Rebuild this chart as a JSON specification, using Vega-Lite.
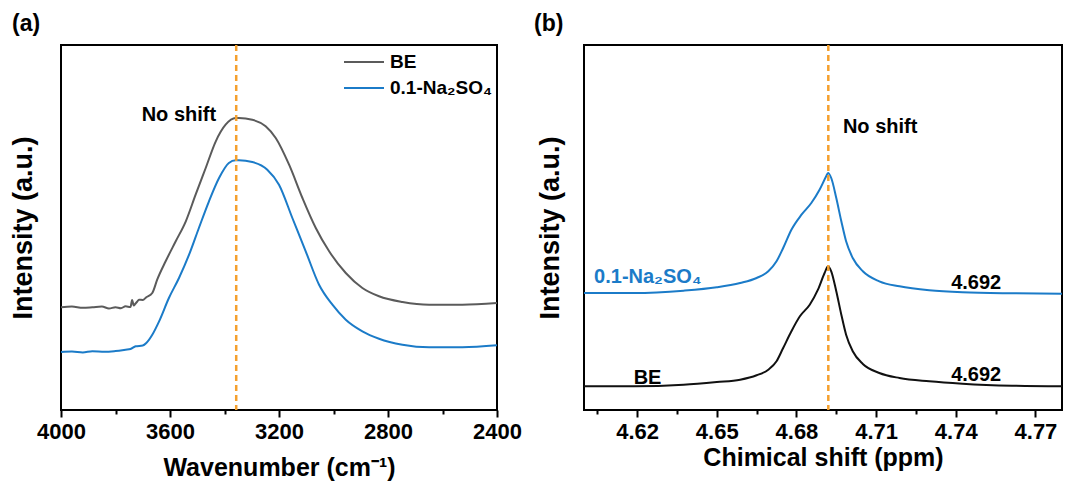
{
  "$schema": "https://vega.github.io/schema/vega-lite/v6.json",
  "background": "white",
  "padding": {"left": 8, "top": 11, "right": 0, "bottom": 0},
  "bounds": "flush",
  "spacing": 87,
  "config": {
    "font": "Liberation Sans",
    "view": {"stroke": "black", "strokeWidth": 2},
    "axis": {"domain": false, "grid": false, "labelFont": "Liberation Sans", "labelFontWeight": "bold", "labelFontSize": 22, "labelColor": "black", "titleFont": "Liberation Sans", "titleFontSize": 25, "titleFontWeight": "bold", "titleColor": "black", "tickColor": "black", "tickWidth": 2},
    "axisY": {"ticks": false, "labels": false, "titleFontSize": 27},
    "title": {"font": "Liberation Sans", "fontSize": 23, "fontWeight": "bold", "color": "black", "anchor": "start", "frame": "group", "offset": 8},
    "text": {"font": "Liberation Sans", "fontWeight": "bold", "fontSize": 20}
  },
  "resolve": {"scale": {"color": "independent"}, "legend": {"color": "independent"}},
  "hconcat": [
    {
      "width": 436,
      "height": 365,
      "title": {"text": "(a)", "dx": -49},
      "layer": [
        {
          "data": {"values": [
            {"series": "BE", "wn": 4000, "v": 102.7}, {"series": "BE", "wn": 3960, "v": 103.5}, {"series": "BE", "wn": 3920, "v": 102.2}, {"series": "BE", "wn": 3885, "v": 102.7}, {"series": "BE", "wn": 3850, "v": 103.4}, {"series": "BE", "wn": 3824, "v": 101.5}, {"series": "BE", "wn": 3800, "v": 102.8}, {"series": "BE", "wn": 3780, "v": 101.8}, {"series": "BE", "wn": 3763, "v": 103.7}, {"series": "BE", "wn": 3745, "v": 103}, {"series": "BE", "wn": 3739, "v": 110}, {"series": "BE", "wn": 3733, "v": 104.5}, {"series": "BE", "wn": 3728, "v": 106}, {"series": "BE", "wn": 3720, "v": 108.5}, {"series": "BE", "wn": 3714, "v": 110.3}, {"series": "BE", "wn": 3700, "v": 110}, {"series": "BE", "wn": 3687, "v": 112.7}, {"series": "BE", "wn": 3665, "v": 117}, {"series": "BE", "wn": 3647, "v": 130.3}, {"series": "BE", "wn": 3616, "v": 148.7}, {"series": "BE", "wn": 3579, "v": 168.7}, {"series": "BE", "wn": 3542, "v": 188.7}, {"series": "BE", "wn": 3506, "v": 215.3}, {"series": "BE", "wn": 3469, "v": 242}, {"series": "BE", "wn": 3432, "v": 268.7}, {"series": "BE", "wn": 3396, "v": 285.3}, {"series": "BE", "wn": 3359, "v": 292}, {"series": "BE", "wn": 3347, "v": 292}, {"series": "BE", "wn": 3298, "v": 290.3}, {"series": "BE", "wn": 3249, "v": 283.7}, {"series": "BE", "wn": 3212, "v": 272}, {"series": "BE", "wn": 3163, "v": 245.3}, {"series": "BE", "wn": 3114, "v": 212}, {"series": "BE", "wn": 3065, "v": 182}, {"series": "BE", "wn": 3016, "v": 158.7}, {"series": "BE", "wn": 2955, "v": 137}, {"series": "BE", "wn": 2894, "v": 122}, {"series": "BE", "wn": 2833, "v": 113.7}, {"series": "BE", "wn": 2747, "v": 108}, {"series": "BE", "wn": 2649, "v": 105.3}, {"series": "BE", "wn": 2527, "v": 105.3}, {"series": "BE", "wn": 2400, "v": 107},
            {"series": "0.1-Na₂SO₄", "wn": 4000, "v": 58}, {"series": "0.1-Na₂SO₄", "wn": 3960, "v": 58.5}, {"series": "0.1-Na₂SO₄", "wn": 3920, "v": 57.6}, {"series": "0.1-Na₂SO₄", "wn": 3885, "v": 58.7}, {"series": "0.1-Na₂SO₄", "wn": 3840, "v": 58.2}, {"series": "0.1-Na₂SO₄", "wn": 3800, "v": 59}, {"series": "0.1-Na₂SO₄", "wn": 3763, "v": 60.3}, {"series": "0.1-Na₂SO₄", "wn": 3745, "v": 61}, {"series": "0.1-Na₂SO₄", "wn": 3726, "v": 63.7}, {"series": "0.1-Na₂SO₄", "wn": 3700, "v": 64.5}, {"series": "0.1-Na₂SO₄", "wn": 3687, "v": 67}, {"series": "0.1-Na₂SO₄", "wn": 3665, "v": 75.3}, {"series": "0.1-Na₂SO₄", "wn": 3640, "v": 88.7}, {"series": "0.1-Na₂SO₄", "wn": 3604, "v": 112}, {"series": "0.1-Na₂SO₄", "wn": 3567, "v": 132}, {"series": "0.1-Na₂SO₄", "wn": 3530, "v": 155.3}, {"series": "0.1-Na₂SO₄", "wn": 3494, "v": 182}, {"series": "0.1-Na₂SO₄", "wn": 3457, "v": 208.7}, {"series": "0.1-Na₂SO₄", "wn": 3420, "v": 232}, {"series": "0.1-Na₂SO₄", "wn": 3384, "v": 247}, {"series": "0.1-Na₂SO₄", "wn": 3359, "v": 249.7}, {"series": "0.1-Na₂SO₄", "wn": 3347, "v": 249.7}, {"series": "0.1-Na₂SO₄", "wn": 3298, "v": 248}, {"series": "0.1-Na₂SO₄", "wn": 3243, "v": 240.3}, {"series": "0.1-Na₂SO₄", "wn": 3200, "v": 225.3}, {"series": "0.1-Na₂SO₄", "wn": 3151, "v": 192}, {"series": "0.1-Na₂SO₄", "wn": 3102, "v": 158.7}, {"series": "0.1-Na₂SO₄", "wn": 3053, "v": 125.3}, {"series": "0.1-Na₂SO₄", "wn": 3004, "v": 105.3}, {"series": "0.1-Na₂SO₄", "wn": 2955, "v": 90.3}, {"series": "0.1-Na₂SO₄", "wn": 2894, "v": 78.7}, {"series": "0.1-Na₂SO₄", "wn": 2833, "v": 71.3}, {"series": "0.1-Na₂SO₄", "wn": 2747, "v": 65.3}, {"series": "0.1-Na₂SO₄", "wn": 2649, "v": 62.7}, {"series": "0.1-Na₂SO₄", "wn": 2527, "v": 62.7}, {"series": "0.1-Na₂SO₄", "wn": 2400, "v": 64.7}
          ]},
          "mark": {"type": "line", "strokeWidth": 2, "interpolate": "monotone", "clip": true},
          "encoding": {
            "x": {"field": "wn", "type": "quantitative", "scale": {"domain": [2400, 4000], "reverse": true, "nice": false, "zero": false},
                  "axis": {"title": "Wavenumber (cm⁻¹)", "values": [4000, 3800, 3600, 3400, 3200, 3000, 2800, 2600, 2400], "format": "d",
                           "labelExpr": "datum.value % 400 === 0 ? datum.label : ''",
                           "labelFontSize": {"condition": {"test": "datum.value % 400 === 0", "value": 22}, "value": 1},
                           "tickSize": {"condition": {"test": "datum.value % 400 === 0", "value": 7}, "value": 4},
                           "labelPadding": 4, "titlePadding": 13, "labelFlush": false}},
            "y": {"field": "v", "type": "quantitative", "scale": {"domain": [0, 365], "nice": false, "zero": false}, "axis": {"title": "Intensity (a.u.)", "titlePadding": 23.5}},
            "color": {"field": "series", "type": "nominal", "scale": {"domain": ["BE", "0.1-Na₂SO₄"], "range": ["#5b5b5b", "#1b7bc8"]},
                      "legend": {"title": null, "orient": "none", "legendX": 282, "legendY": 5, "symbolType": "stroke", "symbolSize": 1600, "symbolStrokeWidth": 2, "clipHeight": 24, "labelFont": "Liberation Sans", "labelFontSize": 19, "labelFontWeight": "bold", "labelColor": "black", "rowPadding": 2, "labelOffset": 5, "labelLimit": 200}}
          }
        },
        {
          "data": {"values": [{}]},
          "mark": {"type": "rule", "color": "#F5A02E", "strokeDash": [6, 4], "strokeWidth": 2.5},
          "encoding": {"x": {"datum": 3357}}
        },
        {
          "data": {"values": [{}]},
          "mark": {"type": "text", "align": "left", "baseline": "alphabetic", "color": "black"},
          "encoding": {"x": {"datum": 3704}, "y": {"datum": 289.3}, "text": {"value": "No shift"}}
        }
      ]
    },
    {
      "width": 478,
      "height": 365,
      "title": {"text": "(b)", "dx": -50},
      "layer": [
        {
          "data": {"values": [
            {"series": "BE", "ppm": 4.6, "v": 23.7}, {"series": "BE", "ppm": 4.6187, "v": 23.7}, {"series": "BE", "ppm": 4.6375, "v": 25.3}, {"series": "BE", "ppm": 4.65, "v": 28}, {"series": "BE", "ppm": 4.6588, "v": 30.3}, {"series": "BE", "ppm": 4.665, "v": 34.7}, {"series": "BE", "ppm": 4.6694, "v": 40.3}, {"series": "BE", "ppm": 4.6725, "v": 48.7}, {"series": "BE", "ppm": 4.675, "v": 62}, {"series": "BE", "ppm": 4.6781, "v": 78.7}, {"series": "BE", "ppm": 4.6813, "v": 93.7}, {"series": "BE", "ppm": 4.685, "v": 105.3}, {"series": "BE", "ppm": 4.6881, "v": 120.3}, {"series": "BE", "ppm": 4.6906, "v": 137}, {"series": "BE", "ppm": 4.6919, "v": 143.7}, {"series": "BE", "ppm": 4.6931, "v": 138.7}, {"series": "BE", "ppm": 4.695, "v": 118.7}, {"series": "BE", "ppm": 4.6969, "v": 95.3}, {"series": "BE", "ppm": 4.6987, "v": 75.3}, {"series": "BE", "ppm": 4.7012, "v": 58.7}, {"series": "BE", "ppm": 4.705, "v": 46}, {"series": "BE", "ppm": 4.7112, "v": 37}, {"series": "BE", "ppm": 4.7188, "v": 32}, {"series": "BE", "ppm": 4.73, "v": 28.7}, {"series": "BE", "ppm": 4.7425, "v": 26.3}, {"series": "BE", "ppm": 4.7612, "v": 24.3}, {"series": "BE", "ppm": 4.78, "v": 23.7},
            {"series": "0.1-Na₂SO₄", "ppm": 4.6, "v": 117}, {"series": "0.1-Na₂SO₄", "ppm": 4.6187, "v": 117}, {"series": "0.1-Na₂SO₄", "ppm": 4.6375, "v": 119.3}, {"series": "0.1-Na₂SO₄", "ppm": 4.65, "v": 122.7}, {"series": "0.1-Na₂SO₄", "ppm": 4.6588, "v": 127}, {"series": "0.1-Na₂SO₄", "ppm": 4.665, "v": 132}, {"series": "0.1-Na₂SO₄", "ppm": 4.6694, "v": 138.7}, {"series": "0.1-Na₂SO₄", "ppm": 4.6725, "v": 148.7}, {"series": "0.1-Na₂SO₄", "ppm": 4.675, "v": 162}, {"series": "0.1-Na₂SO₄", "ppm": 4.6781, "v": 180.3}, {"series": "0.1-Na₂SO₄", "ppm": 4.6819, "v": 195.3}, {"series": "0.1-Na₂SO₄", "ppm": 4.6856, "v": 207}, {"series": "0.1-Na₂SO₄", "ppm": 4.6887, "v": 220.3}, {"series": "0.1-Na₂SO₄", "ppm": 4.6912, "v": 233.7}, {"series": "0.1-Na₂SO₄", "ppm": 4.6919, "v": 237}, {"series": "0.1-Na₂SO₄", "ppm": 4.6931, "v": 232}, {"series": "0.1-Na₂SO₄", "ppm": 4.695, "v": 212}, {"series": "0.1-Na₂SO₄", "ppm": 4.6969, "v": 188.7}, {"series": "0.1-Na₂SO₄", "ppm": 4.6987, "v": 168.7}, {"series": "0.1-Na₂SO₄", "ppm": 4.7012, "v": 152}, {"series": "0.1-Na₂SO₄", "ppm": 4.705, "v": 138.7}, {"series": "0.1-Na₂SO₄", "ppm": 4.7112, "v": 128.7}, {"series": "0.1-Na₂SO₄", "ppm": 4.7188, "v": 123.7}, {"series": "0.1-Na₂SO₄", "ppm": 4.73, "v": 119.7}, {"series": "0.1-Na₂SO₄", "ppm": 4.7425, "v": 117.7}, {"series": "0.1-Na₂SO₄", "ppm": 4.7612, "v": 116.7}, {"series": "0.1-Na₂SO₄", "ppm": 4.78, "v": 116.3}
          ]},
          "mark": {"type": "line", "strokeWidth": 2, "interpolate": "monotone", "clip": true},
          "encoding": {
            "x": {"field": "ppm", "type": "quantitative", "scale": {"domain": [4.6, 4.78], "nice": false, "zero": false},
                  "axis": {"title": "Chimical shift (ppm)", "values": [4.605, 4.62, 4.635, 4.65, 4.665, 4.68, 4.695, 4.71, 4.725, 4.74, 4.755, 4.77], "format": ".2f",
                           "labelExpr": "round(datum.value * 1000) % 30 === 0 ? datum.label : ''",
                           "labelFontSize": {"condition": {"test": "round(datum.value * 1000) % 30 === 0", "value": 22}, "value": 1},
                           "tickSize": {"condition": {"test": "round(datum.value * 1000) % 30 === 0", "value": 7}, "value": 4},
                           "labelPadding": 4, "titlePadding": 3, "labelFlush": false}},
            "y": {"field": "v", "type": "quantitative", "scale": {"domain": [0, 365], "nice": false, "zero": false}, "axis": {"title": "Intensity (a.u.)", "titlePadding": 20}},
            "color": {"field": "series", "type": "nominal", "scale": {"domain": ["BE", "0.1-Na₂SO₄"], "range": ["#111111", "#1b7bc8"]}, "legend": null}
          }
        },
        {
          "data": {"values": [{}]},
          "mark": {"type": "rule", "color": "#F5A02E", "strokeDash": [6, 4], "strokeWidth": 2.5},
          "encoding": {"x": {"datum": 4.692}}
        },
        {
          "data": {"values": [{}]},
          "mark": {"type": "text", "align": "left", "baseline": "alphabetic", "color": "black"},
          "encoding": {"x": {"datum": 4.6975}, "y": {"datum": 277.5}, "text": {"value": "No shift"}}
        },
        {
          "data": {"values": [{}]},
          "mark": {"type": "text", "align": "left", "baseline": "alphabetic", "color": "#1b7bc8"},
          "encoding": {"x": {"datum": 4.6038}, "y": {"datum": 127}, "text": {"value": "0.1-Na₂SO₄"}}
        },
        {
          "data": {"values": [{}]},
          "mark": {"type": "text", "align": "left", "baseline": "alphabetic", "color": "black"},
          "encoding": {"x": {"datum": 4.6187}, "y": {"datum": 26}, "text": {"value": "BE"}}
        },
        {
          "data": {"values": [{}]},
          "mark": {"type": "text", "align": "center", "baseline": "alphabetic", "color": "black"},
          "encoding": {"x": {"datum": 4.7477}, "y": {"datum": 121.3}, "text": {"value": "4.692"}}
        },
        {
          "data": {"values": [{}]},
          "mark": {"type": "text", "align": "center", "baseline": "alphabetic", "color": "black"},
          "encoding": {"x": {"datum": 4.7477}, "y": {"datum": 28.7}, "text": {"value": "4.692"}}
        }
      ]
    }
  ]
}
